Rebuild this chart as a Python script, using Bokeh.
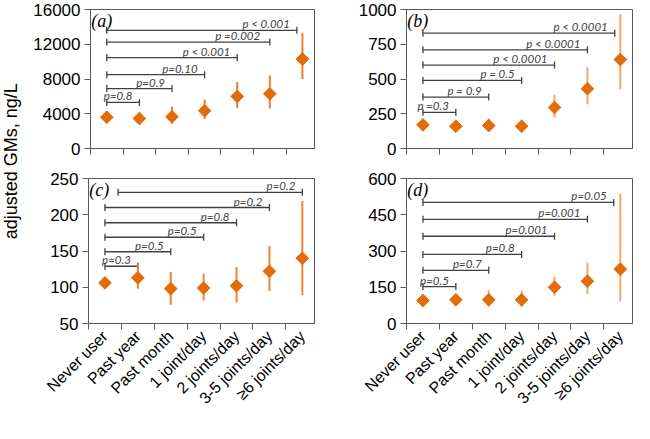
import math
from bokeh.plotting import figure
from bokeh.models import FixedTicker, Label, Whisker, TeeHead, ColumnDataSource
from bokeh.layouts import row, column
from bokeh.core.properties import value
from bokeh.embed import file_html
from bokeh.resources import INLINE

categories = ["Never user", "Past year", "Past month", "1 joint/day",
              "2 joints/day", "3-5 joints/day", "\u22656 joints/day"]
xpos = [1, 2, 3, 4, 5, 6, 7]

# panel (a)
a_gm = [3600, 3450, 3650, 4350, 6000, 6300, 10300]
a_lo = [3250, 3050, 2850, 3400, 4650, 4600, 8000]
a_hi = [3950, 4150, 4800, 5650, 7650, 8400, 13300]
a_br_start = [1, 1, 1, 1, 1, 1]
a_br_end = [2, 3, 4, 5, 6, 6.83]
a_br_level = [5300, 6900, 8500, 10450, 12250, 13600]
a_br_text = ["p=0.8", "p=0.9", "p=0.10", "p < 0.001", "p  =0.002", "p < 0.001"]
a_yticks = [0, 4000, 8000, 12000, 16000]

# panel (b)
b_gm = [170, 160, 165, 160, 295, 430, 640]
b_lo = [150, 140, 135, 140, 225, 318, 425]
b_hi = [195, 180, 215, 180, 388, 585, 965]
b_br_start = [1, 1, 1, 1, 1, 1]
b_br_end = [2, 3, 4, 5, 6, 6.83]
b_br_level = [260, 370, 490, 600, 710, 830]
b_br_text = ["p =0.3", "p = 0.9", "p = 0.5", "p < 0.0001", "p < 0.0001", "p < 0.0001"]
b_yticks = [0, 250, 500, 750, 1000]

# panel (c)
c_gm = [106, 113, 98, 99, 102, 122, 140]
c_lo = [101, 98, 76, 82, 79, 95, 89]
c_hi = [111, 131, 121, 119, 128, 157, 219]
c_br_start = [1, 1, 1, 1, 1, 1.4]
c_br_end = [2, 3, 4, 5, 6, 7]
c_br_level = [129, 149, 169, 189, 210, 231]
c_br_text = ["p=0.3", "p=0.5", "p=0.5", "p=0.8", "p=0.2", "p=0.2"]
c_yticks = [50, 100, 150, 200, 250]

# panel (d)
d_gm = [95, 98, 98, 98, 150, 175, 225]
d_lo = [80, 82, 71, 70, 115, 122, 92]
d_hi = [110, 115, 139, 136, 195, 252, 538]
d_br_start = [1, 1, 1, 1, 1, 1]
d_br_end = [2, 3, 4, 5, 6, 6.8]
d_br_level = [153, 220, 286, 361, 431, 501]
d_br_text = ["p=0.5", "p=0.7", "p=0.8", "p=0.001", "p=0.001", "p=0.05"]
d_yticks = [0, 150, 300, 450, 600]

y_label = "adjusted GMs, ng/L"

MARKER = "#e36c0a"
AXIS = "#595959"
BR = "#404040"


def panel(letter, gm, lo, hi, bs, be, bl, bt, yticks, bar_color,
          width, height, mb, show_labels):
    p = figure(width=width, height=height, x_range=(0.5, 7.37),
               y_range=(yticks[0], yticks[-1]), output_backend="svg",
               toolbar_location=None, min_border_left=mb[0],
               min_border_right=mb[1], min_border_top=mb[2],
               min_border_bottom=mb[3])
    p.grid.visible = False
    p.outline_line_color = AXIS
    p.outline_line_width = 1
    p.background_fill_color = "white"
    p.border_fill_color = "white"

    # y axis
    p.yaxis.ticker = FixedTicker(ticks=yticks, minor_ticks=[])
    p.yaxis.major_tick_out = 6
    p.yaxis.major_tick_in = 0
    p.yaxis.minor_tick_line_color = None
    p.yaxis.axis_line_color = AXIS
    p.yaxis.major_tick_line_color = AXIS
    p.yaxis.major_label_text_font = "Liberation Sans"
    p.yaxis.major_label_text_font_size = "17px"
    p.yaxis.major_label_text_color = "black"
    p.yaxis.major_label_standoff = 4

    # x axis: labels at category centres, tick marks at boundaries
    bounds = [x - 0.5 for x in xpos] + [xpos[-1] + 0.5]
    if show_labels:
        p.xaxis.ticker = FixedTicker(ticks=xpos, minor_ticks=bounds)
        p.xaxis.major_label_overrides = {x: c for x, c in zip(xpos, categories)}
        p.xaxis.major_label_orientation = math.pi / 4
        p.xaxis.major_label_text_font = "Liberation Sans"
        p.xaxis.major_label_text_font_size = "16px"
        p.xaxis.major_label_text_color = "black"
        p.xaxis.major_label_standoff = 4
    else:
        p.xaxis.ticker = FixedTicker(ticks=[], minor_ticks=bounds)
    p.xaxis.major_tick_out = 0
    p.xaxis.major_tick_in = 0
    p.xaxis.minor_tick_out = 6
    p.xaxis.minor_tick_in = 0
    p.xaxis.minor_tick_line_color = AXIS
    p.xaxis.axis_line_color = AXIS

    # error bars and points
    p.segment(x0=xpos, y0=lo, x1=xpos, y1=hi, line_color=bar_color, line_width=2)
    p.scatter(x=xpos, y=gm, marker="square", size=9, angle=math.pi / 4,
              fill_color=MARKER, line_color=MARKER, line_width=1)

    # significance brackets
    src = ColumnDataSource(dict(base=bl, lower=bs, upper=be, text=bt))
    p.add_layout(Whisker(source=src, base="base", lower="lower", upper="upper",
                         dimension="width", line_color=BR, line_width=1.3,
                         lower_head=TeeHead(size=7, line_color=BR, line_width=1.3),
                         upper_head=TeeHead(size=7, line_color=BR, line_width=1.3)))
    p.text(x="upper", y="base", text="text", source=src, text_align="right",
           text_baseline="bottom", x_offset=-7, y_offset=0,
           text_font=value("Lato"), text_font_style="italic",
           text_font_size="11.5px", text_color=BR)

    p.add_layout(Label(x=0.52, y=yticks[-1], text="(" + letter + ")",
                       text_baseline="top", y_offset=-1,
                       text_font="Liberation Serif", text_font_style="italic",
                       text_font_size="18px", text_color="black"))
    return p


pa = panel("a", a_gm, a_lo, a_hi, a_br_start, a_br_end, a_br_level, a_br_text,
           a_yticks, "#ed7d31", 306, 168, (58, 22, 9, 20), False)
pb = panel("b", b_gm, b_lo, b_hi, b_br_start, b_br_end, b_br_level, b_br_text,
           b_yticks, "#f4a66a", 298, 168, (70, 2, 9, 20), False)
pc = panel("c", c_gm, c_lo, c_hi, c_br_start, c_br_end, c_br_level, c_br_text,
           c_yticks, "#ef8436", 306, 255, (58, 22, 10, 100), True)
pd_ = panel("d", d_gm, d_lo, d_hi, d_br_start, d_br_end, d_br_level, d_br_text,
            d_yticks, "#f4a66a", 298, 255, (70, 2, 10, 100), True)

lab = figure(width=30, height=423, x_range=(0, 1), y_range=(0, 1),
             output_backend="svg", toolbar_location=None, min_border=0)
lab.axis.visible = False
lab.grid.visible = False
lab.outline_line_color = None
lab.add_layout(Label(x=0.36, y=0.62, text=y_label, angle=math.pi / 2,
                     text_align="center", text_baseline="middle",
                     text_font="Liberation Sans", text_font_size="18px",
                     text_color="black"))

layout = row(lab, column(row(pa, pb), row(pc, pd_)))

with open("out.html", "w") as f:
    f.write(file_html(layout, INLINE))
